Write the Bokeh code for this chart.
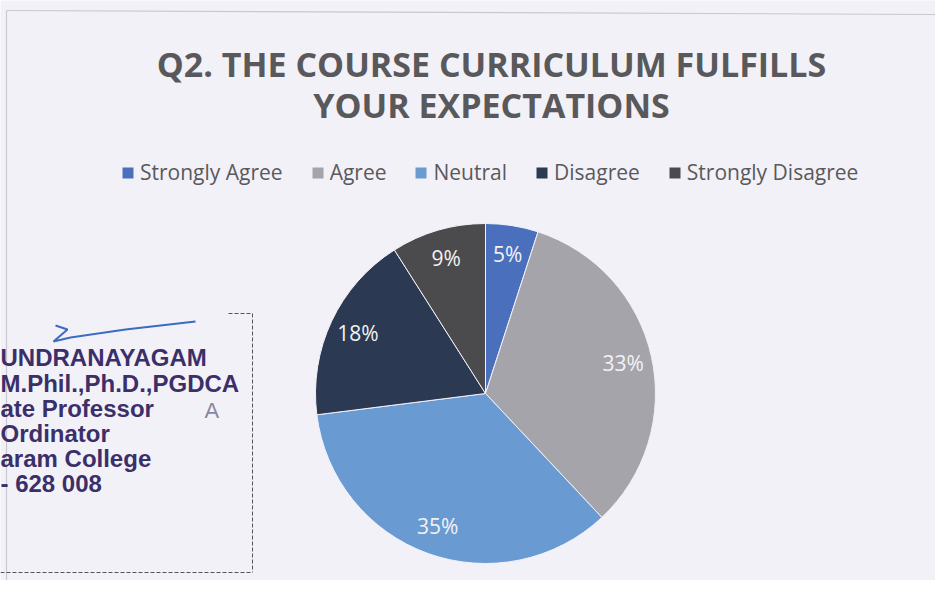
import numpy as np
from bokeh.plotting import figure
from bokeh.models import ColumnDataSource, Range1d, Legend, LegendItem
from bokeh.core.properties import value
from bokeh.embed import file_html
from bokeh.resources import INLINE

# ---- data ----
categories = ["Strongly Agree", "Agree", "Neutral", "Disagree", "Strongly Disagree"]
shares = [5, 33, 35, 18, 9]
pct_labels = ["5%", "33%", "35%", "18%", "9%"]
colors = ["#4a70bd", "#a5a4aa", "#6a9ad2", "#2c3953", "#4b4b4e"]

title_lines = ["Q2. THE COURSE CURRICULUM FULFILLS", "YOUR EXPECTATIONS"]
stamp_lines = ["UNDRANAYAGAM", "M.Phil.,Ph.D.,PGDCA", "ate Professor",
               "Ordinator", "aram College", "- 628 008"]

# ---- layout ----
W, H = 935, 580
BG = "#f3f1f8"
R = 170
TXT = "#59595c"

frac = np.array(shares, dtype=float) / sum(shares)
ends = np.cumsum(frac)
starts = ends - frac
start_angle = np.pi / 2 - ends * 2 * np.pi
end_angle = np.pi / 2 - starts * 2 * np.pi
mid = (start_angle + end_angle) / 2
lr = 0.83 * R

src = ColumnDataSource(dict(
    cat=categories, color=colors, sa=start_angle, ea=end_angle,
    lx=lr * np.cos(mid), ly=lr * np.sin(mid), lab=pct_labels,
))

p = figure(width=W, height=H, output_backend="svg", toolbar_location=None,
           x_range=Range1d(-485, 450), y_range=Range1d(-187, 393),
           min_border=0, background_fill_color=BG, border_fill_color=BG,
           outline_line_color=None)
p.axis.visible = False
p.grid.visible = False

# frame lines (scanned chart border)
p.segment(x0=[-479, -479, -479], y0=[383, 383, -191], x1=[450, -479, 450],
          y1=[379, -191, -192], line_color="#c9c7cf", line_width=1.2)

w = p.wedge(x=0, y=0, radius=R, start_angle="sa", end_angle="ea",
            fill_color="color", line_color=BG, line_width=1, source=src)

p.text(x="lx", y="ly", text="lab", source=src, text_align="center",
       text_baseline="middle", text_color="#f2f2f4",
       text_font=value("Open Sans"), text_font_size="21px")

# title
p.text(x=[6, 6], y=[330, 289], text=title_lines, text_align="center",
       text_baseline="middle", text_color=TXT, text_font=value("Open Sans"),
       text_font_style="bold", text_font_size="34px")

# legend
items = [LegendItem(label=c, renderers=[w], index=i) for i, c in enumerate(categories)]
leg = Legend(items=items, orientation="horizontal", location=(120, 394),
             glyph_width=15, glyph_height=15, label_standoff=5, spacing=27,
             padding=0, margin=0, background_fill_alpha=0, border_line_color=None,
             label_text_color=TXT, label_text_font="Open Sans",
             label_text_font_size="21px")
p.add_layout(leg, "center")

# stamp
stamp_y = [36, 10, -15, -40, -65, -90]
p.text(x=[-485] * len(stamp_lines), y=stamp_y, text=stamp_lines,
       text_align="left", text_baseline="middle", text_color="#3b2f6a",
       text_font=value("Liberation Sans"), text_font_style="bold",
       text_font_size="24px")
p.text(x=[-281], y=[-17], text=["A"], text_align="left", text_baseline="middle",
       text_color="#8a88a0", text_font=value("Liberation Sans"), text_font_size="22px")
p.segment(x0=[-233, -485, -257], y0=[80, -179, 80], x1=[-233, -233, -233],
          y1=[-179, -179, 80], line_color="#55535f", line_width=1,
          line_dash="4 2")
# signature stroke
p.line(x=[-430, -418, -432, -415, -360, -290], y=[68, 64, 52, 56, 64, 72],
       line_color="#3a6cc0", line_width=2)

open("out.html", "w").write(file_html(p, INLINE))
